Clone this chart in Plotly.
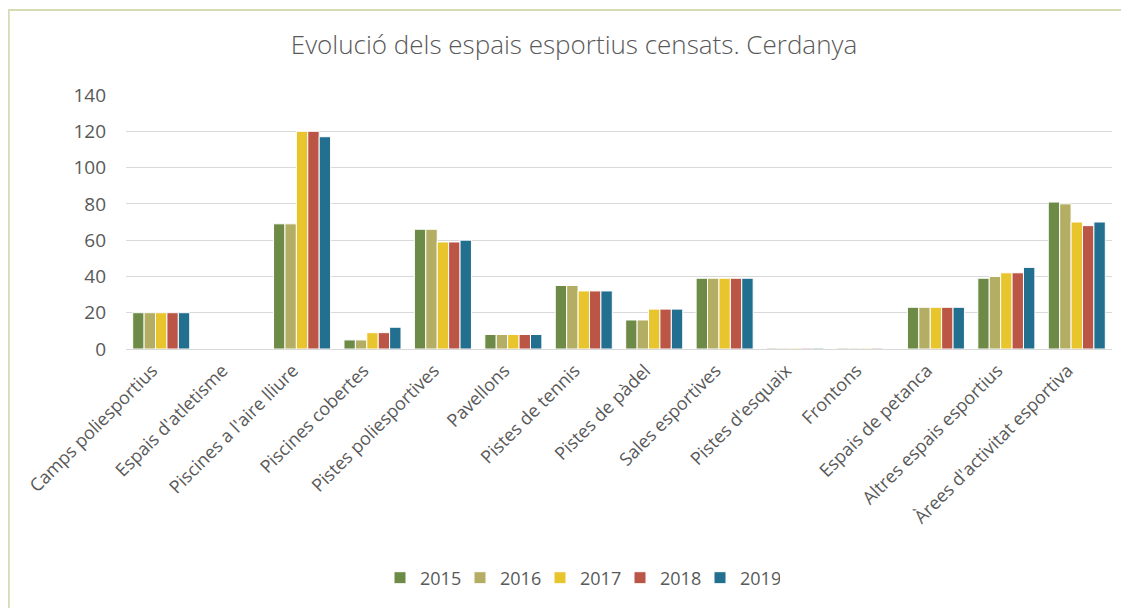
import plotly.graph_objects as go

categories = ["Camps poliesportius", "Espais d'atletisme", "Piscines a l'aire lliure",
              "Piscines cobertes", "Pistes poliesportives", "Pavellons", "Pistes de tennis",
              "Pistes de pàdel", "Sales esportives", "Pistes d'esquaix", "Frontons",
              "Espais de petanca", "Altres espais esportius", "Àrees d'activitat esportiva"]

years = ["2015", "2016", "2017", "2018", "2019"]

v2015 = [20, 0, 69, 5, 66, 8, 35, 16, 39, 0.5, 0.5, 23, 39, 81]
v2016 = [20, 0, 69, 5, 66, 8, 35, 16, 39, 0.5, 0.5, 23, 40, 80]
v2017 = [20, 0, 120, 9, 59, 8, 32, 22, 39, 0.5, 0.5, 23, 42, 70]
v2018 = [20, 0, 120, 9, 59, 8, 32, 22, 39, 0.5, 0.5, 23, 42, 68]
v2019 = [20, 0, 117, 12, 60, 8, 32, 22, 39, 0.5, 0, 23, 45, 70]

series = [v2015, v2016, v2017, v2018, v2019]
colors = ["#6e8a47", "#b3ae63", "#e8c52c", "#bb5546", "#236f8f"]

FONT = "'Open Sans', Lato, sans-serif"
TXT = "#595959"

fig = go.Figure()
for name, vals, col in zip(years, series, colors):
    fig.add_trace(go.Bar(x=categories, y=vals, name=name,
                         marker=dict(color=col, line=dict(color="white", width=1))))

# page has an 8px body margin; figure coordinates = page coordinates - 8
W, H = 1121, 600
L, R, T, B = 118, 17, 87, 259
pw, ph = W - L - R, H - T - B

def px_x(p):
    return (p - L) / pw

def px_y(p):
    return (H - B - p) / ph

fig.update_layout(
    width=W, height=H,
    margin=dict(l=L, r=R, t=T, b=B, autoexpand=False),
    paper_bgcolor="white", plot_bgcolor="white",
    barmode="group", bargap=0.19, bargroupgap=0.0,
    font=dict(family=FONT, color=TXT),
    title=dict(text="Evolució dels espais esportius censats. Cerdanya",
               x=566 / W, xanchor="center", xref="container", y=1 - 37 / H, yanchor="middle",
               font=dict(size=26, color=TXT, family=FONT, weight=300)),
    xaxis=dict(tickangle=-45, tickfont=dict(size=18, color=TXT), showgrid=False,
               showline=True, linecolor="#d9d9d9", linewidth=1, ticks="", automargin=False,
               ticklabelshift=-9, ticklabelstandoff=3),
    yaxis=dict(range=[0, 140], dtick=20, tickfont=dict(size=19, color=TXT),
               gridcolor="#d9d9d9", gridwidth=1, zeroline=False, showline=False,
               ticklabelstandoff=19, automargin=False),
    legend=dict(orientation="h", x=572 / W, xanchor="center", xref="container",
                y=px_y(570), yanchor="middle", font=dict(size=18, color=TXT),
                itemwidth=30, entrywidth=35, traceorder="normal"),
    shapes=[dict(type="rect", xref="paper", yref="paper",
                 x0=px_x(0.75), x1=px_x(1140), y0=px_y(640), y1=px_y(2),
                 line=dict(color="#d3dcb5", width=2), fillcolor="rgba(0,0,0,0)", layer="below")],
)

fig.write_html("out.html")
